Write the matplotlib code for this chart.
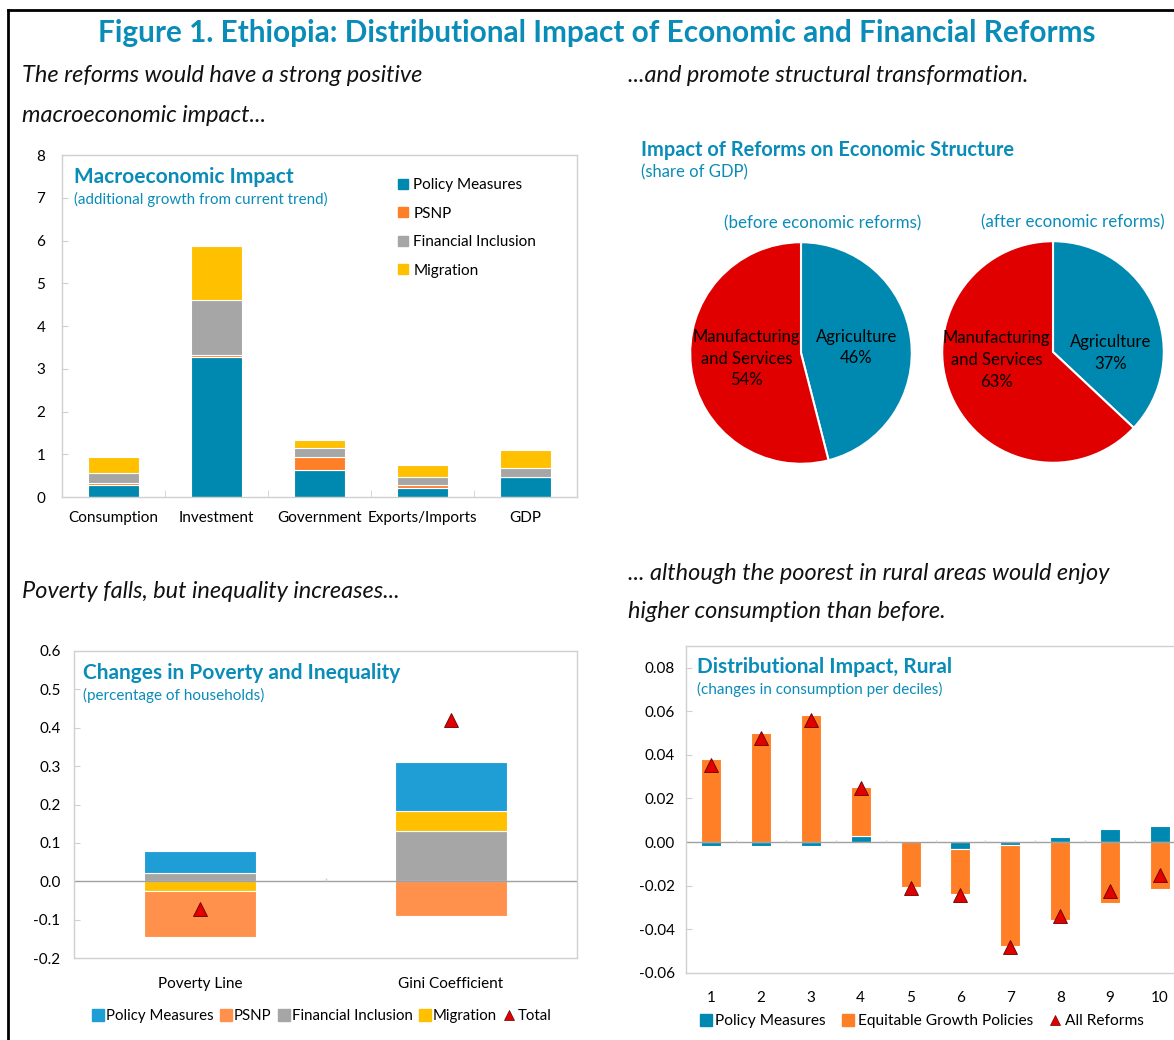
import matplotlib
matplotlib.use("Agg")
import matplotlib.pyplot as plt
from matplotlib.lines import Line2D
from matplotlib.ticker import FuncFormatter
import numpy as np

plt.rcParams['font.family'] = ['Lato', 'DejaVu Sans']
plt.rcParams['axes.unicode_minus'] = False

W, H = 1174, 1040
TEAL = '#0A8CB8'
C_POL = '#0089B0'
C_PSNP = '#FF7F27'
C_FI = '#A6A6A6'
C_MIG = '#FFC000'
C_RED = '#E00000'
SPINE = '#D0D0D0'

# --- data: macroeconomic impact ---
macro_cats = ['Consumption', 'Investment', 'Government', 'Exports/Imports', 'GDP']
macro_policy = [0.27, 3.27, 0.62, 0.21, 0.47]
macro_psnp = [0.06, 0.05, 0.31, 0.06, 0.0]
macro_fi = [0.24, 1.28, 0.22, 0.20, 0.21]
macro_mig = [0.36, 1.26, 0.19, 0.29, 0.43]

# --- data: economic structure (share of GDP, %) ---
pie_labels = ['Agriculture', 'Manufacturing\nand Services']
pie_before = [46, 54]
pie_after = [37, 63]

# --- data: poverty and inequality ---
pov_cats = ['Poverty Line', 'Gini Coefficient']
pov_fi = [0.022, 0.130]
pov_mig = [-0.025, 0.053]
pov_policy = [0.056, 0.127]
pov_psnp = [-0.120, -0.090]
pov_total = [-0.072, 0.420]

# --- data: distributional impact, rural deciles ---
deciles = [1, 2, 3, 4, 5, 6, 7, 8, 9, 10]
dist_policy = [-0.002, -0.002, -0.002, 0.0027, 0.0, -0.003, -0.0012, 0.0023, 0.0058, 0.0073]
dist_equit = [0.038, 0.050, 0.0585, 0.0226, -0.0208, -0.021, -0.0463, -0.0356, -0.028, -0.0215]
dist_all = [0.0354, 0.0476, 0.056, 0.025, -0.021, -0.0244, -0.048, -0.0337, -0.0226, -0.015]

fig = plt.figure(figsize=(W / 100, H / 100), dpi=100)


def px_axes(l, t, r, b):
    return fig.add_axes([l / W, 1 - b / H, (r - l) / W, (b - t) / H])


def ftext(x, y, s, **kw):
    fig.text(x / W, 1 - y / H, s, **kw)


def style_box(ax):
    for sp in ax.spines.values():
        sp.set_color(SPINE)
        sp.set_linewidth(1.0)
    ax.tick_params(axis='y', direction='in', length=4, color=SPINE, labelsize=11, pad=8)
    ax.tick_params(axis='x', length=0, labelsize=11, pad=10)


def stack(vals_list):
    # excel style stacking: positives upward, negatives downward
    pos = np.zeros(len(vals_list[0]))
    neg = np.zeros(len(vals_list[0]))
    out = []
    for vals in vals_list:
        v = np.array(vals, dtype=float)
        bottom = np.where(v >= 0, pos, neg)
        out.append((v, bottom))
        pos = pos + np.where(v >= 0, v, 0)
        neg = neg + np.where(v < 0, v, 0)
    return out


# frame lines
fig.add_artist(Line2D([8 / W, 8 / W], [0, 1 - 10 / H], color='black', lw=2))
fig.add_artist(Line2D([8 / W, 1], [1 - 10 / H, 1 - 10 / H], color='black', lw=2))

ftext(597, 33, 'Figure 1. Ethiopia: Distributional Impact of Economic and Financial Reforms',
      ha='center', va='center', fontsize=21.4, fontweight='bold', color=TEAL)

it = dict(fontsize=16.9, style='italic', va='center', color='#111111')
ftext(22, 75, 'The reforms would have a strong positive', **it)
ftext(22, 115, 'macroeconomic impact...', **it)
ftext(628, 75, '...and promote structural transformation.', **it)
ftext(22, 592, 'Poverty falls, but inequality increases...', **it)
ftext(628, 573, '... although the poorest in rural areas would enjoy', **it)
ftext(628, 612, 'higher consumption than before.', **it)

# ---------- panel 1: macroeconomic impact ----------
ax1 = px_axes(62, 155, 577, 497)
x1 = np.arange(len(macro_cats))
for (v, b), c in zip(stack([macro_policy, macro_psnp, macro_fi, macro_mig]),
                     [C_POL, C_PSNP, C_FI, C_MIG]):
    ax1.bar(x1, v, bottom=b, width=0.5, color=c, edgecolor='white', linewidth=0.8)
ax1.set_xlim(-0.5, len(macro_cats) - 0.5)
ax1.set_ylim(0, 8)
ax1.set_yticks(range(0, 9))
ax1.set_xticks(x1)
ax1.set_xticklabels(macro_cats)
ax1.set_xticks(x1[:-1] + 0.5, minor=True)
style_box(ax1)
ax1.tick_params(axis='x', which='minor', direction='in', length=5, color=SPINE)
ax1.tick_params(axis='y', pad=12)
ftext(74, 177, 'Macroeconomic Impact', fontsize=15, fontweight='bold', color=TEAL, va='center')
ftext(74, 199, '(additional growth from current trend)', fontsize=10.9, color=TEAL, va='center')
h1 = [Line2D([], [], marker='s', ls='', color=c, markersize=7) for c in [C_POL, C_PSNP, C_FI, C_MIG]]
fig.legend(h1, ['Policy Measures', 'PSNP', 'Financial Inclusion', 'Migration'],
           loc='upper left', bbox_to_anchor=(398 / W, 1 - 178 / H), frameon=False,
           fontsize=11, labelspacing=0.95, handlelength=0.7, handletextpad=0.3,
           borderpad=0, borderaxespad=0)

# ---------- panel 2: pies ----------
ftext(641, 150, 'Impact of Reforms on Economic Structure', fontsize=14.4, fontweight='bold',
      color=TEAL, va='center')
ftext(641, 172, '(share of GDP)', fontsize=12, color=TEAL, va='center')


def draw_pie(cx, cy, r, vals, title, title_xy, label_pos):
    ax = px_axes(cx - r, cy - r, cx + r, cy + r)
    ax.pie(vals, colors=[C_POL, C_RED], startangle=90, counterclock=False,
           wedgeprops=dict(edgecolor='white', linewidth=1.5), radius=1)
    ax.set_xlim(-1.02, 1.02)
    ax.set_ylim(-1.02, 1.02)
    ax.set_aspect('auto')
    ax.axis('off')
    for lab, v, (lx, ly) in zip(pie_labels, vals, label_pos):
        ax.text(lx, ly, f'{lab}\n{v}%', ha='center', va='center', fontsize=12,
                color='black', linespacing=1.45)
    ftext(title_xy[0], title_xy[1], title, fontsize=12.2, color=TEAL, ha='center', va='center')


draw_pie(801, 353, 113, pie_before, '(before economic reforms)', (823, 223),
         [(0.50, 0.05), (-0.49, -0.05)])
draw_pie(1053, 352, 113, pie_after, '(after economic reforms)', (1073, 222),
         [(0.52, -0.01), (-0.51, -0.07)])

# ---------- panel 3: poverty and inequality ----------
ax3 = px_axes(74.5, 651, 576.5, 958)
x3 = np.arange(len(pov_cats))
cols3 = [C_FI, C_MIG, '#1F9ED6', '#FF914D']
for (v, b), c in zip(stack([pov_fi, pov_mig, pov_policy, pov_psnp]), cols3):
    ax3.bar(x3, v, bottom=b, width=0.45, color=c, edgecolor='white', linewidth=0.8)
ax3.plot(x3, pov_total, ls='', marker='^', markersize=9.5, color=C_RED,
         markeredgecolor='#6a0000', markeredgewidth=0.6)
ax3.axhline(0, color='#A0A0A0', lw=1)
ax3.vlines(x3[:-1] + 0.5, 0, 0.008, color=SPINE, lw=1)
ax3.set_xlim(-0.5, len(pov_cats) - 0.5)
ax3.set_ylim(-0.2, 0.6)
ax3.set_yticks(np.arange(-0.2, 0.61, 0.1))
ax3.yaxis.set_major_formatter(FuncFormatter(lambda v, p: f'{v:.1f}'))
ax3.set_xticks(x3)
ax3.set_xticklabels(pov_cats)
style_box(ax3)
ax3.tick_params(axis='y', pad=10)
ax3.tick_params(axis='x', pad=14)
ftext(83, 673, 'Changes in Poverty and Inequality', fontsize=15, fontweight='bold', color=TEAL, va='center')
ftext(83, 695, '(percentage of households)', fontsize=11, color=TEAL, va='center')
h3 = [Line2D([], [], marker='s', ls='', color=c, markersize=8) for c in ['#1F9ED6', '#FF914D', C_FI, C_MIG]]
h3.append(Line2D([], [], marker='^', ls='', color=C_RED, markersize=7,
                 markeredgecolor='#6a0000', markeredgewidth=0.5))
fig.legend(h3, ['Policy Measures', 'PSNP', 'Financial Inclusion', 'Migration', 'Total'],
           loc='center', bbox_to_anchor=(322 / W, 1 - 1016 / H), ncol=5, frameon=False,
           fontsize=10.8, handlelength=0.7, handletextpad=0.2, columnspacing=0.45,
           borderpad=0, borderaxespad=0)

# ---------- panel 4: distributional impact ----------
ax4 = px_axes(686, 645.8, 1185, 973)
x4 = np.array(deciles)
for (v, b), c in zip(stack([dist_policy, dist_equit]), [C_POL, C_PSNP]):
    ax4.bar(x4, v, bottom=b, width=0.4, color=c, edgecolor='white', linewidth=0.8)
ax4.plot(x4, dist_all, ls='', marker='^', markersize=9.5, color=C_RED,
         markeredgecolor='#6a0000', markeredgewidth=0.6)
ax4.axhline(0, color='#A0A0A0', lw=1)
ax4.vlines(x4[:-1] + 0.5, 0, 0.0012, color=SPINE, lw=1)
ax4.set_xlim(0.5, 10.5)
ax4.set_ylim(-0.06, 0.09)
ax4.set_yticks(np.arange(-0.06, 0.081, 0.02))
ax4.yaxis.set_major_formatter(FuncFormatter(lambda v, p: f'{v:.2f}'))
ax4.set_xticks(x4)
style_box(ax4)
ax4.tick_params(axis='x', pad=13)
ftext(697, 667, 'Distributional Impact, Rural', fontsize=15, fontweight='bold', color=TEAL, va='center')
ftext(697, 689, '(changes in consumption per deciles)', fontsize=11, color=TEAL, va='center')
h4 = [Line2D([], [], marker='s', ls='', color=C_POL, markersize=8),
      Line2D([], [], marker='s', ls='', color=C_PSNP, markersize=8),
      Line2D([], [], marker='^', ls='', color=C_RED, markersize=7,
             markeredgecolor='#6a0000', markeredgewidth=0.5)]
fig.legend(h4, ['Policy Measures', 'Equitable Growth Policies', 'All Reforms'],
           loc='center', bbox_to_anchor=(922 / W, 1 - 1021 / H), ncol=3, frameon=False,
           fontsize=11.2, handlelength=0.7, handletextpad=0.25, columnspacing=1.1,
           borderpad=0, borderaxespad=0)

fig.savefig('out.png', dpi=100)
